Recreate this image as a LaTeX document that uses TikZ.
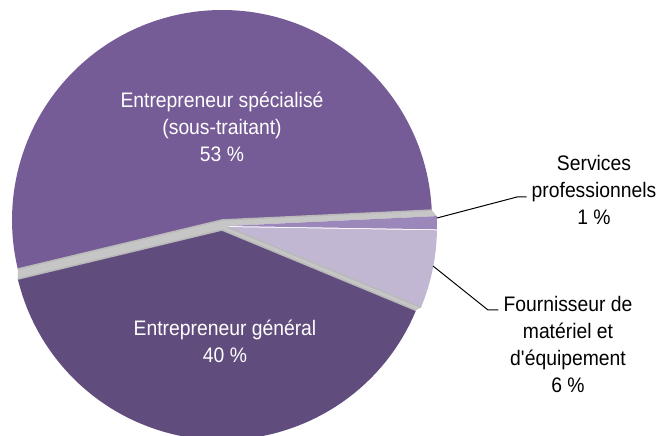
\documentclass[tikz,border=0pt]{standalone}
\usepackage{fontspec}
\setmainfont{Liberation Sans}[FakeStretch=0.92]
\usetikzlibrary{calc}
\definecolor{specColor}{RGB}{118,92,150}
\definecolor{genColor}{RGB}{97,77,125}
\definecolor{servColor}{RGB}{155,135,185}
\definecolor{fourColor}{RGB}{194,183,211}

\begin{document}
\begin{tikzpicture}[x=1pt,y=1pt,
  gap/.style={fill=gray!45},
  bevel/.style={draw=gray!55,line width=1.5pt,line join=round},
  leader/.style={draw=black,line width=1pt},
  lbl/.style={align=center,inner sep=0pt,font=\fontsize{21}{27}\selectfont}]
\useasboundingbox (0,0) rectangle (659,436);
\pgfmathsetmacro{\R}{210}
\pgfmathsetmacro{\angA}{2.7}
\pgfmathsetmacro{\angB}{-0.9}
\pgfmathsetmacro{\angC}{-22.5}
\pgfmathsetmacro{\angD}{193.5}
\coordinate (cSpec) at (222,216);
\coordinate (cServ) at (227,210);
\coordinate (cFour) at (227,209);
\coordinate (cGen) at (222,206);
% grey gaps between the slices
\fill[gap] ($(cSpec)+(\angA:\R)$) -- (cSpec) -- ($(cSpec)+(\angD:\R)$)
  -- ($(cGen)+(\angD:\R)$) -- (cGen) -- ($(cGen)+(\angC:\R)$)
  -- ($(cFour)+(\angC:\R)$) -- (cFour) -- (cServ) -- ($(cServ)+(\angA:\R)$) -- cycle;
% slices
\fill[genColor] (cGen) -- ++(\angC:\R) arc (\angC:\angD-360:\R) -- cycle;
\fill[fourColor] (cFour) -- ++(\angC:\R) arc (\angC:\angB:\R) -- cycle;
\fill[servColor] (cServ) -- ++(\angB:\R) arc (\angB:\angA:\R) -- cycle;
\fill[specColor] (cSpec) -- ++(\angA:\R) arc (\angA:\angD:\R) -- cycle;
% bevelled edges
\draw[bevel] (cGen) ++(\angC:\R) -- (cGen) -- ++(\angD:\R);
\draw[bevel] (cFour) ++(\angC:\R) -- (cFour);
\draw[bevel] (cSpec) ++(\angA:\R) -- (cSpec) -- ++(\angD:\R);
% labels
\node[lbl,text=white] (specLabel) at (222,309.5) {Entrepreneur spécialisé\\(sous-traitant)\\53 \%};
\node[lbl,text=white] (genLabel) at (225,95) {Entrepreneur général\\40 \%};
\node[lbl] (servLabel) at (594,246.5) {Services\\professionnels\\1 \%};
\node[lbl] (fourLabel) at (568,91.5) {Fournisseur de\\matériel et\\d\textquotesingle équipement\\6 \%};
% leaders
\coordinate (servPt) at (437,218);
\coordinate (servElbow) at (517,239);
\coordinate (fourPt) at (433,170);
\coordinate (fourElbow) at (488,126);
\draw[leader] (servPt) -- (servElbow) -- ([xshift=-5pt]servLabel.west |- servElbow);
\draw[leader] (fourPt) -- (fourElbow) -- ([xshift=-5pt]fourLabel.west |- fourElbow);
\end{tikzpicture}
\end{document}
